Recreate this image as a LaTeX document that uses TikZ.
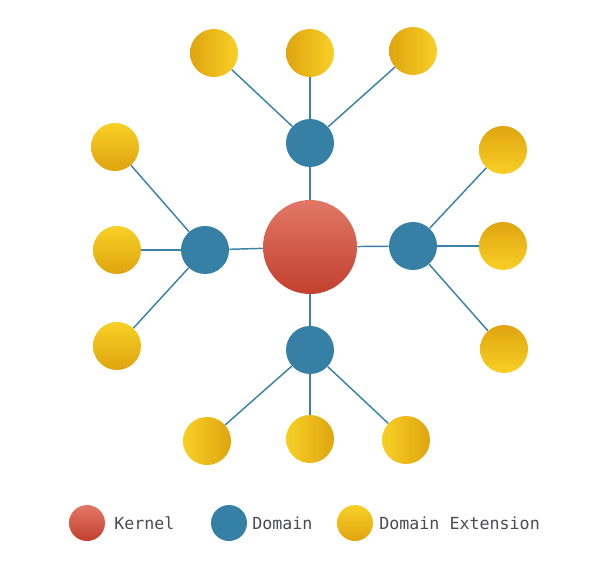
\documentclass[tikz,border=0pt]{standalone}
\usepackage{fontspec}
\setmonofont{DejaVu Sans Mono}
\usetikzlibrary{positioning}

\definecolor{kernelTop}{HTML}{E27767}
\definecolor{kernelBot}{HTML}{C2402E}
\definecolor{domainBlue}{HTML}{3680A6}
\definecolor{linkBlue}{HTML}{3C82A8}
\definecolor{extLight}{HTML}{F8D026}
\definecolor{extDark}{HTML}{DFA40F}
\definecolor{legendGray}{HTML}{4A4A52}

\tikzset{
    kernelball/.style={circle, minimum size=70.5pt, inner sep=0, top color=kernelTop, bottom color=kernelBot},
    domainball/.style={circle, minimum size=36pt, inner sep=0, fill=domainBlue},
    extball/.style={circle, minimum size=36pt, inner sep=0, top color=extLight, bottom color=extDark, shading angle=#1},
    link/.style={draw=linkBlue, line width=1.1pt},
    legendText/.style={anchor=west, inner sep=0, text=legendGray, font=\ttfamily\fontsize{12.5}{15}\selectfont}
}

\newcommand{\extNode}[4]{
    \node[extball=#4] (#1) at (#2,#3) {};
}

\begin{document}
\begin{tikzpicture}[x=0.75pt, y=-0.75pt]
\useasboundingbox (0,0) rectangle (608,571);

% Kernel and domains
\node[kernelball] (kern) at (310,247) {};
\node[domainball] (domTop) at (310,143) {};
\node[domainball] (domLeft) at (205,250) {};
\node[domainball] (domRight) at (413,246) {};
\node[domainball] (domBot) at (310,350) {};

% Extensions of the top domain
\extNode{topA}{214}{53}{270}
\extNode{topB}{310}{53}{270}
\extNode{topC}{413}{51}{270}

% Extensions of the left domain
\extNode{leftA}{115}{147}{0}
\extNode{leftB}{117}{250}{0}
\extNode{leftC}{117}{346}{0}

% Extensions of the right domain
\extNode{rightA}{503}{150}{180}
\extNode{rightB}{503}{246}{180}
\extNode{rightC}{504}{349}{180}

% Extensions of the bottom domain
\extNode{botA}{207}{441}{90}
\extNode{botB}{310}{439}{90}
\extNode{botC}{406}{440}{90}

% Links
\foreach \d in {domTop,domLeft,domRight,domBot}
    \draw[link] (kern) -- (\d);
\foreach \e in {topA,topB,topC}
    \draw[link] (domTop) -- (\e);
\foreach \e in {leftA,leftB,leftC}
    \draw[link] (domLeft) -- (\e);
\foreach \e in {rightA,rightB,rightC}
    \draw[link] (domRight) -- (\e);
\foreach \e in {botA,botB,botC}
    \draw[link] (domBot) -- (\e);

% Legend
\node[kernelball, minimum size=27pt] (legKernel) at (87,523) {};
\node[legendText] (legKernelText) at (114,523) {Kernel};
\node[domainball, minimum size=27pt] (legDomain) at (229,523) {};
\node[legendText] (legDomainText) at (252,523) {Domain};
\node[extball=0, minimum size=27pt] (legExt) at (355,523) {};
\node[legendText] (legExtText) at (379,523) {Domain Extension};

\end{tikzpicture}
\end{document}
